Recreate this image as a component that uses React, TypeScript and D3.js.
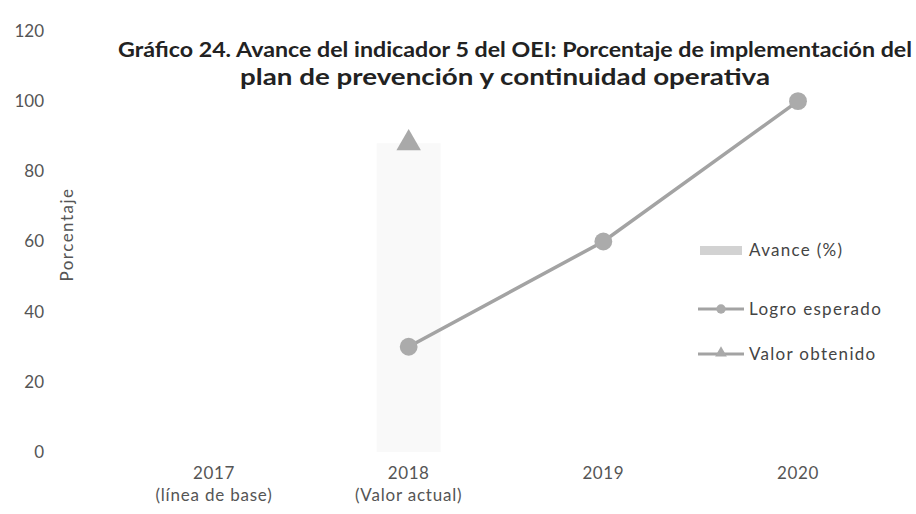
import React from "react";
import * as d3 from "d3";

const categories = ["2017", "2018", "2019", "2020"];
const categorySub = ["(línea de base)", "(Valor actual)", "", ""];
const avance: (number | null)[] = [null, 88, null, null];
const logroEsperado: (number | null)[] = [null, 30, 60, 100];
const valorObtenido: (number | null)[] = [null, 88, null, null];
const yTicks = [0, 20, 40, 60, 80, 100, 120];
const legendLabels = ["Avance (%)", "Logro esperado", "Valor obtenido"];

const W = 916;
const H = 514;
const FONT = "Lato, 'Open Sans', sans-serif";

export default function App() {
  const x = d3.scalePoint<string>().domain(categories).range([214, 798]);
  const y = d3.scaleLinear().domain([0, 120]).range([452, 31]);

  const linePts = categories
    .map((c, i) => ({ c, v: logroEsperado[i] }))
    .filter((d) => d.v != null) as { c: string; v: number }[];
  const line = d3
    .line<{ c: string; v: number }>()
    .x((d) => x(d.c)!)
    .y((d) => y(d.v));

  const barW = 64;
  const tri = d3.symbol().type(d3.symbolTriangle).size(260)();
  const circ = d3.symbol().type(d3.symbolCircle).size(250)();

  return (
    <svg width={W} height={H} style={{ position: "absolute", left: 0, top: 0, background: "#fff" }}>
      <rect x={0} y={0} width={W} height={H} fill="#fff" />
      {yTicks.map((t) => (
        <text key={t} x={44} y={y(t)} dy="0.35em" textAnchor="end" fontFamily={FONT} fontSize={17} fill="#555">
          {t}
        </text>
      ))}
      <text
        transform={`translate(67,${y(62)}) rotate(-90)`}
        textAnchor="middle"
        dy="0.35em"
        fontFamily={FONT}
        fontSize={17}
        letterSpacing={1.5}
        fill="#555"
      >
        Porcentaje
      </text>
      {categories.map((c, i) =>
        avance[i] != null ? (
          <rect key={c} x={x(c)! - barW / 2} y={y(avance[i]!)} width={barW} height={y(0) - y(avance[i]!)} fill="#f9f9f9" />
        ) : null
      )}
      <path d={line(linePts)!} fill="none" stroke="#a3a3a3" strokeWidth={3.5} />
      {linePts.map((d) => (
        <path key={d.c} d={circ!} transform={`translate(${x(d.c)},${y(d.v)})`} fill="#ababab" />
      ))}
      {categories.map((c, i) =>
        valorObtenido[i] != null ? (
          <path key={c} d={tri!} transform={`translate(${x(c)},${y(valorObtenido[i]!)})`} fill="#a9a9a9" />
        ) : null
      )}
      {categories.map((c, i) => (
        <g key={c}>
          <text x={x(c)} y={479} textAnchor="middle" fontFamily={FONT} fontSize={17} letterSpacing={0.6} fill="#555">
            {c}
          </text>
          {categorySub[i] && (
            <text x={x(c)} y={501} textAnchor="middle" fontFamily={FONT} fontSize={17} letterSpacing={0.8} fill="#555">
              {categorySub[i]}
            </text>
          )}
        </g>
      ))}
      <text x={515} y={57} textAnchor="middle" fontFamily={FONT} fontWeight="bold" fontSize={21} fill="#222" textLength={794} lengthAdjust="spacingAndGlyphs">
        Gráfico 24. Avance del indicador 5 del OEI: Porcentaje de implementación del
      </text>
      <text x={505} y={85} textAnchor="middle" fontFamily={FONT} fontWeight="bold" fontSize={22} fill="#222" textLength={530} lengthAdjust="spacingAndGlyphs">
        plan de prevención y continuidad operativa
      </text>
      <g fontFamily={FONT} fontSize={17} fill="#444" letterSpacing={1.3}>
        <rect x={700} y={246} width={42} height={9} fill="#d2d2d2" />
        <text x={749} y={250} dy="0.35em">{legendLabels[0]}</text>
        <line x1={698} x2={744} y1={309} y2={309} stroke="#a3a3a3" strokeWidth={3} />
        <path d={d3.symbol().type(d3.symbolCircle).size(70)()!} transform="translate(721,309)" fill="#ababab" />
        <text x={749} y={309} dy="0.35em">{legendLabels[1]}</text>
        <line x1={698} x2={744} y1={354} y2={354} stroke="#a3a3a3" strokeWidth={3} />
        <path d={d3.symbol().type(d3.symbolTriangle).size(60)()!} transform="translate(721,353)" fill="#a9a9a9" />
        <text x={749} y={354} dy="0.35em">{legendLabels[2]}</text>
      </g>
    </svg>
  );
}
